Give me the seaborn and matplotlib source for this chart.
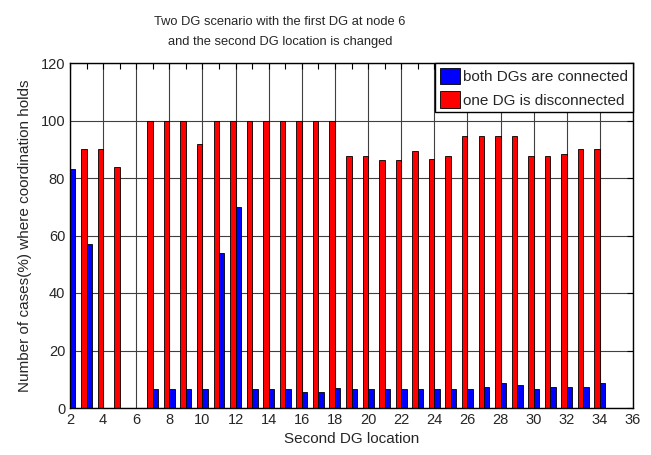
import numpy as np
import pandas as pd
import matplotlib
matplotlib.use("Agg")
import matplotlib.pyplot as plt
from matplotlib.ticker import MultipleLocator
import seaborn as sns

# second DG location (node 6 holds the first DG, so it is skipped)
nodes = [2, 3, 4, 5, 7, 8, 9, 10, 11, 12, 13, 14, 15, 16, 17, 18,
         19, 20, 21, 22, 23, 24, 25, 26, 27, 28, 29, 30, 31, 32, 33, 34]
both_connected = [83, 57, 0, 0, 6.5, 6.5, 6.5, 6.5, 54, 70, 6.5, 6.5, 6.5, 5.7, 5.7, 6.8,
                  6.5, 6.5, 6.5, 6.5, 6.5, 6.5, 6.5, 6.5, 7.4, 8.8, 8.0, 6.5, 7.4, 7.4, 7.4, 8.8]
one_disconnected = [np.nan, 90, 90, 84, 100, 100, 100, 92, 100, 100, 100, 100, 100, 100, 100, 100,
                    87.5, 87.5, 86.3, 86.3, 89.3, 86.5, 87.5, 94.5, 94.5, 94.5, 94.5, 87.5, 87.5, 88.5, 90.2, 90.2]

lab_both = "both DGs are connected"
lab_one = "one DG is disconnected"

df = pd.concat([
    pd.DataFrame({"node": nodes, "pct": one_disconnected, "case": lab_one}),
    pd.DataFrame({"node": nodes, "pct": both_connected, "case": lab_both}),
]).dropna()

sns.set_style("white")
plt.rcParams["font.family"] = ["Liberation Sans", "DejaVu Sans"]

fig = plt.figure(figsize=(6.51, 4.55), dpi=100)
ax = fig.add_axes([70 / 651, 1 - 408 / 455, 563 / 651, 345 / 455])

sns.barplot(data=df, x="node", y="pct", hue="case", hue_order=[lab_one, lab_both],
            palette=["#ff0000", "#0000ff"], native_scale=True, width=0.66,
            edgecolor="black", linewidth=0.6, saturation=1, ax=ax)

ax.set_xlim(2, 36)
ax.set_ylim(0, 120)
ax.xaxis.set_major_locator(MultipleLocator(2))
ax.xaxis.set_minor_locator(MultipleLocator(1))
ax.yaxis.set_major_locator(MultipleLocator(20))
ax.set_axisbelow(True)
ax.grid(True, which="major", color="0.25", linewidth=0.8)
ax.tick_params(which="both", direction="in", top=True, right=True, length=4,
               width=0.8, color="black", labelsize=10.5)
for s in ax.spines.values():
    s.set_visible(True)
    s.set_color("black")
    s.set_linewidth(1.0)

ax.set_xlabel("Second DG location", fontsize=11, labelpad=4)
ax.set_ylabel("Number of cases(%) where coordination holds", fontsize=11, labelpad=6)

fig.text(280 / 651, 1 - 32 / 455,
         "Two DG scenario with the first DG at node 6\nand the second DG location is changed",
         ha="center", va="center", fontsize=9.3, linespacing=1.9)

handles, labels = ax.get_legend_handles_labels()
leg = ax.legend(handles[::-1], labels[::-1], loc="upper right", fontsize=11,
                frameon=True, fancybox=False, framealpha=1, edgecolor="black",
                borderaxespad=0, borderpad=0.3, handlelength=1.35, handleheight=1.3,
                handletextpad=0.2, labelspacing=0.45)
leg.get_frame().set_linewidth(1.0)

fig.savefig("out.png", dpi=100)
